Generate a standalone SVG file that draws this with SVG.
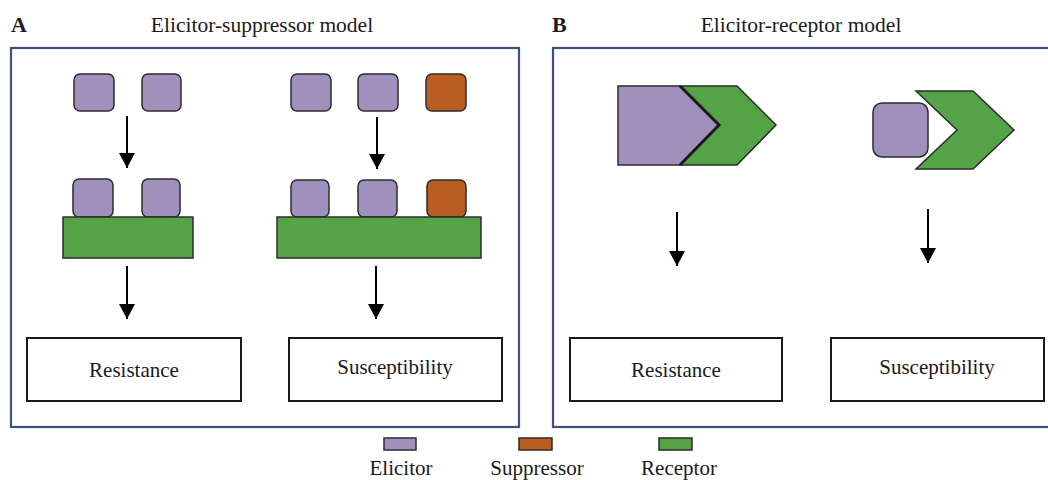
<svg xmlns="http://www.w3.org/2000/svg" width="1048" height="480" viewBox="0 0 1048 480">
<style>
.panel{fill:none;stroke:#3b4f8c;stroke-width:2.2}
.el{fill:#a190bb;stroke:#2b2b2b;stroke-width:1.5}
.sp{fill:#b95d20;stroke:#2b2b2b;stroke-width:1.5}
.rc{fill:#54a447;stroke:#2b2b2b;stroke-width:1.5}
.box{fill:#fff;stroke:#1a1a1a;stroke-width:2}
.t{font-family:"Liberation Serif","Times New Roman",serif;fill:#1a1a1a;text-anchor:middle}
.lbl{font-size:21px}
.hd{font-size:21.5px}
.big{font-size:22px;font-weight:bold;text-anchor:start}
.conn line{stroke:#000;stroke-width:2}
</style>
<defs>
<marker id="ah" markerWidth="15" markerHeight="16" refX="15" refY="8" orient="auto" markerUnits="userSpaceOnUse" viewBox="0 0 15 16">
<path d="M0,0 L15,8 L0,16 Z" fill="#000"/>
</marker>
</defs>

<g id="titles">
<text class="t big" x="11" y="32">A</text>
<text class="t hd" x="262" y="32">Elicitor-suppressor model</text>
<text class="t big" x="552" y="32">B</text>
<text class="t hd" x="801" y="32">Elicitor-receptor model</text>
</g>

<g id="panelA"><rect class="panel" x="11" y="48" width="508" height="379"/></g>
<g id="panelB"><rect class="panel" x="553" y="48" width="500" height="379"/></g>

<g id="A-res-top">
<rect class="el" x="74" y="74" width="40" height="37" rx="6"/>
<rect class="el" x="142" y="74" width="39" height="37" rx="6"/>
</g>
<g id="A-sus-top">
<rect class="el" x="291" y="74" width="40" height="37" rx="6"/>
<rect class="el" x="358" y="74" width="40" height="37" rx="6"/>
<rect class="sp" x="426" y="74" width="40" height="37" rx="6"/>
</g>
<g id="A-res-bound">
<rect class="el" x="73" y="179" width="40" height="38" rx="6"/>
<rect class="el" x="142" y="179" width="38" height="38" rx="6"/>
<rect class="rc" x="63" y="217" width="130" height="41"/>
</g>
<g id="A-sus-bound">
<rect class="el" x="291" y="180" width="38" height="37" rx="6"/>
<rect class="el" x="358" y="180" width="39" height="37" rx="6"/>
<rect class="sp" x="427" y="180" width="39" height="37" rx="6"/>
<rect class="rc" x="277" y="217" width="204" height="41"/>
</g>
<g id="A-resistance">
<rect class="box" x="27" y="338" width="214" height="63"/>
<text class="t lbl" x="134" y="377">Resistance</text>
</g>
<g id="A-susceptibility">
<rect class="box" x="289" y="338" width="213" height="63"/>
<text class="t lbl" x="395" y="374">Susceptibility</text>
</g>

<g id="B-res-complex">
<polygon class="el" points="618,86 680,86 719,125 680,165 618,165"/>
<polygon class="rc" points="680,86 737,86 776,125 737,165 680,165 719,125"/>
<polyline points="680,86 719,125 680,165" fill="none" stroke="#1a1a1a" stroke-width="3"/>
</g>
<g id="B-sus-complex">
<rect class="el" x="873" y="103" width="55" height="54" rx="9"/>
<polygon class="rc" points="916,91 973,91 1014,130 973,169 916,169 957,130"/>
</g>
<g id="B-resistance">
<rect class="box" x="570" y="338" width="212" height="63"/>
<text class="t lbl" x="676" y="377">Resistance</text>
</g>
<g id="B-susceptibility">
<rect class="box" x="831" y="338" width="213" height="63"/>
<text class="t lbl" x="937" y="374">Susceptibility</text>
</g>

<g id="connectors" class="conn">
<line x1="127" y1="116" x2="127" y2="168" marker-end="url(#ah)"/>
<line x1="377" y1="117" x2="377" y2="169" marker-end="url(#ah)"/>
<line x1="127" y1="266" x2="127" y2="319" marker-end="url(#ah)"/>
<line x1="376" y1="266" x2="376" y2="319" marker-end="url(#ah)"/>
<line x1="677" y1="212" x2="677" y2="266" marker-end="url(#ah)"/>
<line x1="928" y1="209" x2="928" y2="263" marker-end="url(#ah)"/>
</g>

<g id="legend">
<rect class="el" x="384" y="438" width="32" height="12" stroke-width="1.2"/>
<rect class="sp" x="519" y="438" width="33" height="12" stroke-width="1.2"/>
<rect class="rc" x="659" y="438" width="33" height="12" stroke-width="1.2"/>
<text class="t lbl" x="401" y="475">Elicitor</text>
<text class="t lbl" x="537" y="475">Suppressor</text>
<text class="t lbl" x="679" y="475">Receptor</text>
</g>
</svg>
